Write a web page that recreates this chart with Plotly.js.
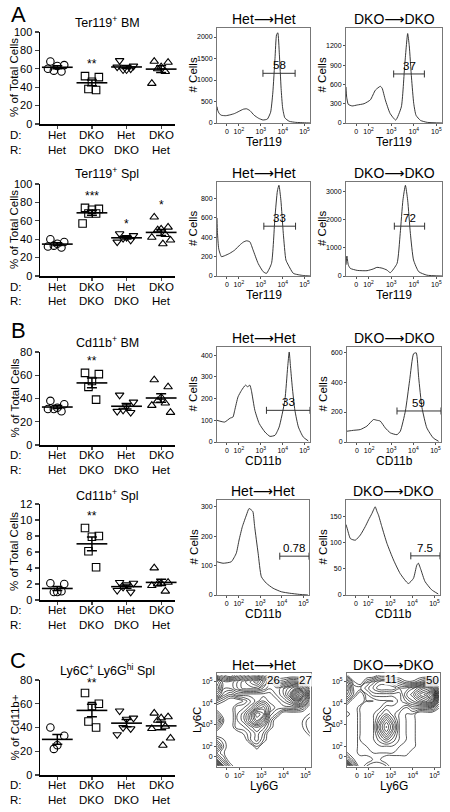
<!DOCTYPE html>
<html><head><meta charset="utf-8">
<script src="https://cdn.plot.ly/plotly-3.0.1.min.js"></script>
<style>html,body{margin:0;padding:0;background:#fff}#chart{width:450px;height:812px}</style>
</head><body><div id="chart"></div>
<script>
// ---------------- DATA ----------------
const donor = ['Het','DKO','Het','DKO'];
const recipient = ['Het','DKO','DKO','Het'];

const ter119BM  = [[68,64,63,58,57,60],[52,51,46,38,37],[69,63,59,59,60,62],[68,67,62,60,57,44]];
const ter119Spl = [[40,37,35,33,31,32],[74,73,72,68,68,57],[46,44,42,41,39,37],[64,53,51,50,45,42,39,35]];
const cd11bBM   = [[38,35,32,31,29,31],[62,61,55,50,39],[43,37,33,30,28,29],[56,50,41,38,36,34,28]];
const cd11bSpl  = [[2.1,2.0,1.0,1.0,1.1],[9,8,7.9,6.1,4.1],[2.2,2.1,1.9,1.6,1.0,1.2],[4.0,2.2,2.1,2.0,1.1,1.8]];
const ly6cSpl   = [[40,33,25,22],[69,60,58,45,40],[54,48,47,40,39,34],[52,49,48,46,41,39,31,25]];

const sigTer119BM  = ['','**','',''];   const sigYTer119BM  = [0,68.5,0,0];
const sigTer119Spl = ['','***','*','*']; const sigYTer119Spl = [0,90,60,80];
const sigCd11bBM   = ['','**','',''];   const sigYCd11bBM   = [0,75,0,0];
const sigCd11bSpl  = ['','**','',''];   const sigYCd11bSpl  = [0,10.9,0,0];
const sigLy6c      = ['','**','',''];   const sigYLy6c      = [0,80,0,0];

// histogram x values are in display (biexponential) decade units
const decadeTicks = [1.45,2,3,4,5];
const decadeText  = ['0','10<sup>2</sup>','10<sup>3</sup>','10<sup>4</sup>','10<sup>5</sup>'];

const terBMHetX = [1.0,1.03,1.1,1.2,1.4,1.6,1.8,2.0,2.2,2.35,2.5,2.7,2.9,3.1,3.3,3.45,3.55,3.65,3.72,3.78,3.85,3.93,4.0,4.1,4.3,4.6,5.0,5.25];
const terBMHetY = [380,300,220,180,170,190,220,270,320,330,290,180,110,70,90,250,700,1500,2050,2100,1600,800,350,120,40,15,5,0];
const terBMDkoX = [1.0,1.03,1.1,1.27,1.5,1.8,2.08,2.3,2.52,2.6,2.74,2.95,3.2,3.45,3.6,3.73,3.8,3.9,4.0,4.1,4.3,4.6,5.25];
const terBMDkoY = [560,400,290,265,280,300,360,510,570,540,360,150,45,250,900,1390,1200,700,300,120,40,10,0];
const terSpHetX = [1.0,1.02,1.08,1.2,1.35,1.58,1.81,2.04,2.2,2.35,2.5,2.65,2.88,3.11,3.26,3.49,3.65,3.76,3.83,3.92,4.03,4.15,4.26,4.49,4.94,5.25];
const terSpHetY = [600,450,280,200,210,234,268,320,350,364,354,268,130,45,27,130,612,880,938,783,440,165,113,27,5,0];
const terSpDkoX = [1.0,1.04,1.1,1.19,1.5,1.93,2.2,2.37,2.6,2.81,2.96,3.26,3.4,3.52,3.63,3.73,3.85,3.99,4.22,4.58,5.25];
const terSpDkoY = [400,712,400,273,200,190,250,308,280,213,119,450,1518,2705,3238,2705,1518,570,154,30,0];
const cdBMHetX = [1.0,1.35,1.6,1.73,1.81,1.96,2.12,2.3,2.4,2.5,2.57,2.73,2.93,3.19,3.42,3.65,3.84,4.1,4.23,4.3,4.36,4.44,4.56,4.72,4.94,5.17];
const cdBMHetY = [100,92,110,115,146,208,238,262,255,262,238,146,85,46,26,31,69,192,346,415,346,254,146,69,23,5];
const cdBMDkoX = [1.0,1.3,1.6,1.9,2.2,2.35,2.5,2.73,2.96,3.26,3.41,3.64,3.83,4.01,4.13,4.24,4.39,4.61,4.9,5.14];
const cdBMDkoY = [72,78,83,106,150,145,140,94,61,49,72,207,409,589,595,431,229,94,27,5];
const cdSpHetX = [1.0,1.28,1.66,1.89,2.02,2.17,2.36,2.48,2.59,2.66,2.74,2.9,3.05,3.28,3.59,3.97,4.36,4.82,5.2];
const cdSpHetY = [113,108,113,142,187,232,272,294,289,283,232,142,62,40,23,11,6,2,0];
const cdSpDkoX = [1.0,1.05,1.2,1.42,1.65,1.87,2.02,2.17,2.32,2.4,2.47,2.62,2.85,3.15,3.45,3.82,4.05,4.2,4.27,4.39,4.57,4.87,5.17];
const cdSpDkoY = [135,128,108,105,115,131,144,156,169,160,153,131,99,67,41,22,32,57,61,48,26,10,2];

// gates: [start, end, level, label]
const gateTerBMHet = [3.1,4.57,1156,'58'];
const gateTerBMDko = [3.11,4.47,762,'37'];
const gateTerSpHet = [3.14,4.59,515,'33'];
const gateTerSpDko = [3.14,4.48,1779,'72'];
const gateCdBMHet  = [3.26,5.25,146,'33'];
const gateCdBMDko  = [3.26,5.25,207,'59'];
const gateCdSpHet  = [3.9,5.25,132,'0.78'];
const gateCdSpDko  = [3.93,5.25,75,'7.5'];

// contour density grids (Ly6G across, Ly6C up), rows from bottom to top
const ly6gGrid = [1.0,1.3,1.6,1.9,2.2,2.5,2.8,3.1,3.4,3.7,4.0,4.3,4.6,4.9,5.2];
const ly6cGrid = [1.1,1.4,1.7,2.0,2.3,2.6,2.9,3.2,3.5,3.8,4.1,4.4,4.7,5.0,5.3];
const densHet = [
 [9,4,1.5,0,0,0,0,0,0,0,0,0,0,0,0],
 [4,2,0,0,0,0,0,0,0,0,0,0,0,0,0],
 [2,1,0,0,0,0,0,0,0,0,0,0,0,0,0],
 [4,1.5,0,0,0,0,1.5,0,0,0,0,0,0,0,0],
 [2,1,0,0,0,2,3,1.5,0,0,0,0,0,0,0],
 [0,0,0,0,1,2,3,2,0,0,0,0,0,0,1.5],
 [2,0,0,2,2,3,4,3,1.5,0,0,0,0,1,2],
 [4,1,0,2,3,5,7,5,2,0,0,0,0,1,2],
 [2,0,0,2,3,5,8,7,3,2,0,0,0,0,1],
 [0,0,0,2,2,3,5,6,4,3,3,3,3,2,0],
 [2,1,0,0,1,2,3,4,3,3,4,5,7,5,2],
 [5,3,2,3,3,3,3,3,3,4,5,7,11,8,3],
 [7,4,4,5,6,6,6,5,4,4,5,6,7,5,2],
 [6,4,4,5,6,7,8,6,4,2,2,3,3,2,0],
 [2,1,0,2,3,4,4,3,2,0,0,0,0,0,0]];
const densDko = [
 [8,3,0,1.5,2,2,1.5,0,0,0,0,0,0,0,0],
 [3,1,0,0,1,1,0,0,0,0,0,0,0,0,0],
 [1,0,1.5,1.5,1.5,1.5,1.5,1.5,1.5,1.5,0,0,0,0,0],
 [0,0,1.5,1.5,2,2,2,2,1.5,1.5,1.5,0,0,0,0],
 [0,0,1.5,2,2,3,4,3,2,1.5,1.5,0,0,0,0],
 [0,0,1.5,2,2,4,6,4,2,1.5,1.5,0,0,0,0],
 [0,0,1.5,2,2,5,7,5,2,1.5,1.5,0,0,0,0],
 [0,0,1.5,2,2,4,6,4,2,1.5,1.5,0,0,0,0],
 [1.5,0,1.5,2,2,3,4,3,2,1.5,1.5,0,0,0,0],
 [0,0,1.5,2,2,2,3,3,3,2,3,3,3,3,1],
 [2,0,0,1.5,1.5,2,2,2,3,4,5,6,7,8,3],
 [4,2,0,2,3,3,3,3,3,5,6,8,9,11,4],
 [5,2,2,3,4,5,5,5,4,4,5,6,7,7,3],
 [4,1,0,2,3,4,4,3,2,1,1,2,3,3,1],
 [1,0,0,0,0,1.5,1.5,0,0,0,0,0,0,0,0]];
const gatesHetC = ['26','27'];
const gatesDkoC = ['11','50'];

// ---------------- DRAWING ----------------
const W=450,H=812;
const px=x=>x/W, py=y=>1-y/H;
const FONT='Arial, "Liberation Sans", "DejaVu Sans", sans-serif';
const SYM=['circle-open','square-open','triangle-down-open','triangle-up-open'];
const JIT=[-0.2,0.2,0,-0.1,0.12,-0.27,0.27,0.05];
const traces=[], annotations=[];
const layout={width:W,height:H,margin:{l:0,r:0,t:0,b:0},showlegend:false,
  paper_bgcolor:'#fff',plot_bgcolor:'rgba(0,0,0,0)',font:{family:FONT,color:'#000'},hovermode:false};

function T(text,x,y,size,extra){annotations.push(Object.assign({xref:'paper',yref:'paper',x:px(x),y:py(y),text:text,showarrow:false,font:{size:size,family:FONT,color:'#000'},xanchor:'center',yanchor:'middle'},extra||{}));}
const mean=a=>a.reduce((s,v)=>s+v,0)/a.length;
const sem=a=>{const m=mean(a);return Math.sqrt(a.reduce((s,v)=>s+(v-m)*(v-m),0)/(a.length-1))/Math.sqrt(a.length);};
function ax(n){return {xa:'x'+n,ya:'y'+n,xk:'xaxis'+n,yk:'yaxis'+n};}

function scatterPanel(n,c){
  const a=ax(n);
  layout[a.xk]={domain:[px(40),px(175)],range:[0.5,4.4],anchor:a.ya,showgrid:false,zeroline:false,showline:true,linecolor:'#000',linewidth:1.5,ticks:'outside',tickvals:[1,2,3,4],ticklen:3,tickwidth:1.2,showticklabels:false,fixedrange:true};
  layout[a.yk]={domain:[py(c.bot),py(c.top)],range:c.range,dtick:c.dtick,anchor:a.xa,showgrid:false,zeroline:false,showline:true,linecolor:'#000',linewidth:1.5,ticks:'outside',ticklen:4,tickwidth:1.2,tickfont:{size:11,family:FONT,color:'#000'},fixedrange:true};
  c.vals.forEach((g,i)=>{
    traces.push({type:'scatter',mode:'markers',xaxis:a.xa,yaxis:a.ya,x:g.map((v,j)=>i+1+JIT[j%JIT.length]),y:g,
      marker:{symbol:SYM[i],size:7.5,color:'#000',line:{color:'#000',width:1.1}},cliponaxis:false});
    traces.push({type:'scatter',mode:'markers',xaxis:a.xa,yaxis:a.ya,x:[i+1],y:[mean(g)],
      marker:{symbol:'line-ew',size:22,color:'#000',line:{color:'#000',width:1.6}},
      error_y:{type:'data',array:[sem(g)],width:5,thickness:1.5,color:'#000'},cliponaxis:false});
    if(c.sig[i]) annotations.push({xref:a.xa,yref:a.ya,x:i+1,y:c.sigY[i],text:c.sig[i],showarrow:false,yshift:-3,font:{size:12,family:FONT,color:'#000'}});
    annotations.push({xref:a.xa,yref:'paper',x:i+1,y:py(c.dRow),text:donor[i],showarrow:false,font:{size:11.5,family:FONT,color:'#000'},yanchor:'middle'});
    annotations.push({xref:a.xa,yref:'paper',x:i+1,y:py(c.dRow+14.5),text:recipient[i],showarrow:false,font:{size:11.5,family:FONT,color:'#000'},yanchor:'middle'});
  });
  T('D:',16,c.dRow,11.5); T('R:',16,c.dRow+14.5,11.5);
  T(c.title,107,c.titleY,12.5);
  T(c.ytitle,14,(c.top+c.bot)/2,11.5,{textangle:-90});
}

function frameAxes(a,x0,x1,top,bot,yr,ydtick,ytv,ytt){
  layout[a.xk]={domain:[px(x0),px(x1)],range:[1,5.25],anchor:a.ya,mirror:true,showline:true,linecolor:'#777',linewidth:1,
    ticks:'outside',ticklen:2,tickcolor:'#555',tickvals:decadeTicks,ticktext:decadeText,tickfont:{size:7,family:FONT,color:'#000'},showgrid:false,zeroline:false,fixedrange:true};
  layout[a.yk]=Object.assign({domain:[py(bot),py(top)],range:yr,anchor:a.xa,mirror:true,showline:true,linecolor:'#777',linewidth:1,
    ticks:'outside',ticklen:2,tickcolor:'#555',tickfont:{size:7,family:FONT,color:'#000'},showgrid:false,zeroline:false,fixedrange:true},
    ytv?{tickvals:ytv,ticktext:ytt}:{dtick:ydtick});
}

function histPanel(n,c){
  const a=ax(n);
  frameAxes(a,c.x0,c.x1,c.top,c.bot,[0,c.ymax],c.dtick);
  traces.push({type:'scatter',mode:'lines',xaxis:a.xa,yaxis:a.ya,x:c.xs,y:c.ys,line:{color:'#222',width:0.9,shape:'spline',smoothing:0.5}});
  const g=c.gate;
  traces.push({type:'scatter',mode:'lines+markers',xaxis:a.xa,yaxis:a.ya,x:[g[0],g[1]],y:[g[2],g[2]],line:{color:'#333',width:1},
    marker:{symbol:'line-ns',size:5,line:{color:'#333',width:1}},cliponaxis:false});
  annotations.push({xref:a.xa,yref:a.ya,x:(g[0]+g[1])/2,y:g[2],text:g[3],showarrow:false,yanchor:'bottom',yshift:0,font:{size:11.5,family:FONT,color:'#000'}});
  T(c.title,(c.x0+c.x1)/2,c.top-9,14);
  T(c.xtitle,(c.x0+c.x1)/2,c.bot+19,12);
  T('# Cells',c.x0-24,(c.top+c.bot)/2,11.5,{textangle:-90});
}

function contourPanel(n,c){
  const a=ax(n);
  frameAxes(a,c.x0,c.x1,c.top,c.bot,[1.05,5.4],null,decadeTicks.map((v,i)=>i===0?1.52:v),decadeText);
  traces.push({type:'contour',xaxis:a.xa,yaxis:a.ya,x:ly6gGrid,y:ly6cGrid,z:c.z,showscale:false,
    contours:{coloring:'lines',start:0.9,end:11,size:0.6},line:{width:0.7,smoothing:1.2},colorscale:[[0,'#111'],[1,'#111']]});
  const lab=c.labels;
  lab.forEach((t,i)=>{
    annotations.push({xref:'paper',yref:'paper',x:px(c.tips[i][0]),y:py(c.tips[i][1]),ax:c.offs[i][0],ay:c.offs[i][1],text:t,showarrow:true,arrowhead:0,arrowwidth:0.7,arrowcolor:'#444',
      font:{size:11.5,family:FONT,color:'#000'},bgcolor:'rgba(255,255,255,0.8)',borderpad:0});
  });
  T(c.title,(c.x0+c.x1)/2,c.top-8,14);
  T('Ly6G',(c.x0+c.x1)/2,c.bot+19,12);
  T('Ly6C',c.x0-20,(c.top+c.bot)/2,11.5,{textangle:-90});
}

// scatter panels
scatterPanel(1,{vals:ter119BM,sig:sigTer119BM,sigY:sigYTer119BM,top:32,bot:124,range:[0,100],dtick:20,titleY:22,dRow:135,title:'Ter119<sup>+</sup> BM',ytitle:'% of Total Cells'});
scatterPanel(2,{vals:ter119Spl,sig:sigTer119Spl,sigY:sigYTer119Spl,top:184,bot:276,range:[0,100],dtick:20,titleY:173,dRow:287,title:'Ter119<sup>+</sup> Spl',ytitle:'% of Total Cells'});
scatterPanel(3,{vals:cd11bBM,sig:sigCd11bBM,sigY:sigYCd11bBM,top:352,bot:445,range:[0,80],dtick:20,titleY:342,dRow:455,title:'Cd11b<sup>+</sup> BM',ytitle:'% of Total Cells'});
scatterPanel(4,{vals:cd11bSpl,sig:sigCd11bSpl,sigY:sigYCd11bSpl,top:504,bot:600,range:[0,12],dtick:2,titleY:495,dRow:610,title:'Cd11b<sup>+</sup> Spl',ytitle:'% of Total Cells'});
scatterPanel(5,{vals:ly6cSpl,sig:sigLy6c,sigY:sigYLy6c,top:680,bot:775,range:[0,80],dtick:20,titleY:670,dRow:785,title:'Ly6C<sup>+</sup> Ly6G<sup>hi</sup> Spl',ytitle:'% of Cd11b+'});

// panel letters
T('A',18,15,22); T('B',18,330,22); T('C',18,660,22);

const HH='Het\u27F6Het', DD='DKO\u27F6DKO';
histPanel(6,{x0:217,x1:310,top:28,bot:123,ymax:2210,dtick:500,xs:terBMHetX,ys:terBMHetY,gate:gateTerBMHet,title:HH,xtitle:'Ter119'});
histPanel(7,{x0:346,x1:442,top:28,bot:123,ymax:1476,dtick:300,xs:terBMDkoX,ys:terBMDkoY,gate:gateTerBMDko,title:DD,xtitle:'Ter119'});
histPanel(8,{x0:217,x1:310,top:182,bot:276,ymax:972,dtick:200,xs:terSpHetX,ys:terSpHetY,gate:gateTerSpHet,title:HH,xtitle:'Ter119'});
histPanel(9,{x0:346,x1:442,top:182,bot:276,ymax:3356,dtick:1000,xs:terSpDkoX,ys:terSpDkoY,gate:gateTerSpDko,title:DD,xtitle:'Ter119'});
histPanel(10,{x0:217,x1:310,top:347,bot:442,ymax:438,dtick:100,xs:cdBMHetX,ys:cdBMHetY,gate:gateCdBMHet,title:HH,xtitle:'CD11b'});
histPanel(11,{x0:347,x1:441,top:347,bot:442,ymax:634,dtick:200,xs:cdBMDkoX,ys:cdBMDkoY,gate:gateCdBMDko,title:DD,xtitle:'CD11b'});
histPanel(12,{x0:217,x1:309,top:500,bot:595,ymax:323,dtick:100,xs:cdSpHetX,ys:cdSpHetY,gate:gateCdSpHet,title:HH,xtitle:'CD11b'});
histPanel(13,{x0:346,x1:440,top:500,bot:595,ymax:182,dtick:50,xs:cdSpDkoX,ys:cdSpDkoY,gate:gateCdSpDko,title:DD,xtitle:'CD11b'});

contourPanel(14,{x0:217,x1:311,top:673,bot:767,z:densHet,title:HH,labels:gatesHetC,tips:[[258,689],[283,689]],offs:[[15,-9],[22,-9]]});
contourPanel(15,{x0:347,x1:440,top:673,bot:767,z:densDko,title:DD,labels:gatesDkoC,tips:[[366,683],[412,689]],offs:[[25,-4],[20,-9]]});

layout.annotations=annotations;
Plotly.newPlot('chart',traces,layout,{staticPlot:true,displayModeBar:false});
</script></body></html>
